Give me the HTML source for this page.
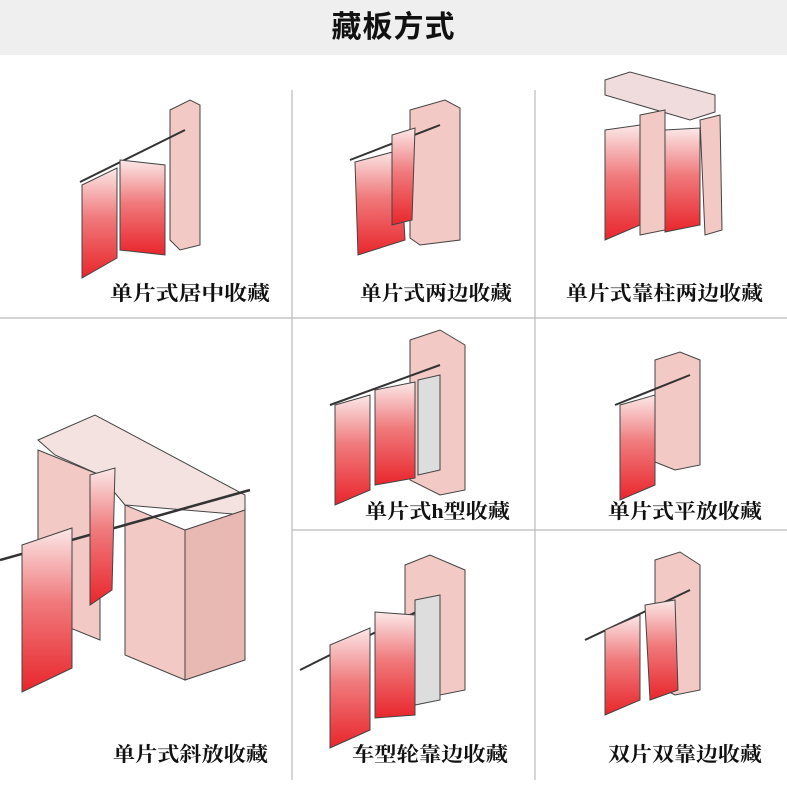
<!DOCTYPE html>
<html><head><meta charset="utf-8"><style>
html,body{margin:0;padding:0;background:#fff;}
body{width:787px;height:796px;overflow:hidden;position:relative;font-family:"Liberation Sans","Noto Sans CJK SC",sans-serif;}
.hdr{position:absolute;left:0;top:0;width:787px;height:55px;background:#efefef;}
.hdr div{text-align:center;font-size:30px;font-weight:bold;line-height:55px;color:#111;letter-spacing:1px;font-family:"Liberation Sans","Noto Sans CJK SC",sans-serif;}
svg{position:absolute;left:0;top:0;}
.lb{font-family:"Liberation Serif","Noto Serif CJK SC",serif;font-weight:bold;font-size:20px;fill:#111;}
</style></head><body>
<div class="hdr"><div>藏板方式</div></div>
<svg width="787" height="796" viewBox="0 0 787 796">
<defs>
<linearGradient id="r" x1="0" y1="1" x2="0" y2="0">
<stop offset="0" stop-color="#e8262c"/><stop offset="0.55" stop-color="#f07a7c"/><stop offset="1" stop-color="#fbe8e8"/>
</linearGradient>
</defs>
<g stroke="#bbb" stroke-width="1.2" fill="none">
<line x1="292" y1="90" x2="292" y2="780"/>
<line x1="535" y1="90" x2="535" y2="780"/>
<line x1="0" y1="318" x2="787" y2="318"/>
<line x1="292" y1="530" x2="787" y2="530"/>
</g>
<g stroke="#444" stroke-width="1">
<polygon points="170,110 190,100 200,105 200,245 180,250 170,240" fill="#f2c9c4"/>
<line x1="80" y1="182" x2="185" y2="130" stroke="#333" stroke-width="2"/>
<polygon points="82,185 117,168 117,258 82,278" fill="url(#r)"/>
<polygon points="120,160 165,165 165,255 120,250" fill="url(#r)"/>
<polygon points="410,110 445,100 460,108 460,240 420,245 410,238" fill="#f2c9c4"/>
<line x1="350" y1="160" x2="440" y2="125" stroke="#333" stroke-width="2"/>
<polygon points="355,162 400,150 405,240 358,255" fill="url(#r)"/>
<polygon points="392,135 415,128 412,220 392,225" fill="url(#r)"/>
<polygon points="605,80 630,72 715,95 715,112 690,120 605,95" fill="#f0dcdc"/>
<polygon points="640,115 665,110 665,230 640,235" fill="#f2c9c4"/>
<polygon points="700,120 720,115 722,230 705,235" fill="#f2c9c4"/>
<polygon points="605,130 640,125 640,225 605,240" fill="url(#r)"/>
<polygon points="665,130 700,128 700,225 665,232" fill="url(#r)"/>
<polygon points="410,340 440,330 465,345 465,490 440,495 410,480" fill="#f2c9c4"/>
<line x1="330" y1="405" x2="440" y2="365" stroke="#333" stroke-width="2"/>
<polygon points="335,405 370,395 370,490 335,505" fill="url(#r)"/>
<polygon points="375,390 415,382 415,478 375,485" fill="url(#r)"/>
<polygon points="418,380 440,375 440,470 418,475" fill="#ddd"/>
<polygon points="655,360 680,352 700,360 700,465 675,470 655,462" fill="#f2c9c4"/>
<line x1="615" y1="405" x2="690" y2="375" stroke="#333" stroke-width="2"/>
<polygon points="620,405 655,395 655,485 620,500" fill="url(#r)"/>
<polygon points="38,440 95,415 245,495 245,515 125,505 100,475 55,455" fill="#f3e2e0"/>
<polygon points="38,450 100,475 100,640 38,615" fill="#f2c9c4"/>
<polygon points="125,505 185,530 185,680 125,655" fill="#f2c9c4"/>
<polygon points="185,530 245,510 245,660 185,680" fill="#e8b8b2"/>
<line x1="0" y1="560" x2="250" y2="490" stroke="#333" stroke-width="2.5"/>
<polygon points="22,545 72,528 72,668 22,692" fill="url(#r)"/>
<polygon points="90,475 115,468 112,590 90,605" fill="url(#r)"/>
<polygon points="405,565 430,555 465,570 465,690 440,695 405,680" fill="#f2c9c4"/>
<line x1="300" y1="670" x2="440" y2="600" stroke="#333" stroke-width="2"/>
<polygon points="330,645 370,628 370,730 330,748" fill="url(#r)"/>
<polygon points="375,612 415,615 415,715 375,718" fill="url(#r)"/>
<polygon points="415,600 440,595 440,700 415,705" fill="#ddd"/>
<polygon points="655,560 680,552 700,565 700,690 675,695 655,685" fill="#f2c9c4"/>
<line x1="585" y1="640" x2="690" y2="590" stroke="#333" stroke-width="2"/>
<polygon points="605,630 640,615 640,700 605,715" fill="url(#r)"/>
<polygon points="645,605 675,600 678,690 650,700" fill="url(#r)"/>
</g>
<text class="lb" x="110" y="300" textLength="160" lengthAdjust="spacingAndGlyphs">单片式居中收藏</text>
<text class="lb" x="360" y="300" textLength="152" lengthAdjust="spacingAndGlyphs">单片式两边收藏</text>
<text class="lb" x="566" y="300" textLength="197" lengthAdjust="spacingAndGlyphs">单片式靠柱两边收藏</text>
<text class="lb" x="365" y="518" textLength="145" lengthAdjust="spacingAndGlyphs">单片式h型收藏</text>
<text class="lb" x="608" y="518" textLength="154" lengthAdjust="spacingAndGlyphs">单片式平放收藏</text>
<text class="lb" x="113" y="761" textLength="155" lengthAdjust="spacingAndGlyphs">单片式斜放收藏</text>
<text class="lb" x="352" y="761" textLength="156" lengthAdjust="spacingAndGlyphs">车型轮靠边收藏</text>
<text class="lb" x="608" y="761" textLength="154" lengthAdjust="spacingAndGlyphs">双片双靠边收藏</text>
</svg>
</body></html>
